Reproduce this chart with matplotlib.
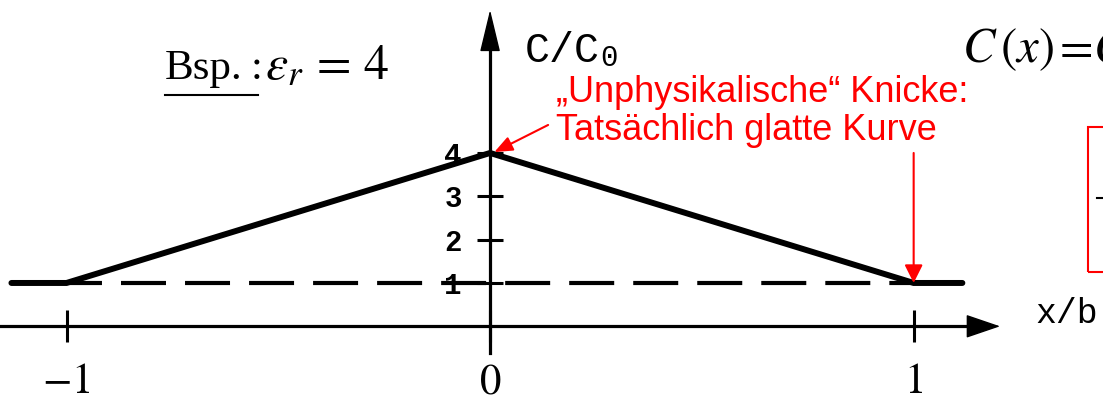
import matplotlib.pyplot as plt
from matplotlib.lines import Line2D
from matplotlib.patches import Rectangle

plt.rcParams['mathtext.fontset'] = 'stix'
plt.rcParams['lines.scale_dashes'] = False

# piecewise capacitance profile C/C0 over x/b
eps_r = 4
x_pos = [-1.13, -1.0, 0.0, 1.0, 1.115]
c_ratio = [1, 1, eps_r, 1, 1]
x_ticks = [-1, 0, 1]
x_ticklabels = [r'$-1$', r'$0$', r'$1$']
y_ticks = [1, 2, 3, 4]

W, H = 1103, 403


def px(x, y):
    # pixel position (from top left) -> figure fraction
    return x / W, 1 - y / H


fig = plt.figure(figsize=(11.03, 4.03), dpi=100)
ax = fig.add_axes([0, 0, 1, 1])
ax.set_xlim(-1.157, 1.447)
ax.set_ylim(-1.77, 7.53)

# axes through the origin
for side in ['top', 'right']:
    ax.spines[side].set_visible(False)
ax.spines['bottom'].set_position(('data', 0))
ax.spines['left'].set_position(('data', 0))
ax.spines['bottom'].set_bounds(-1.157, 1.14)
ax.spines['left'].set_bounds(-0.62, 6.9)
ax.spines['bottom'].set_linewidth(2.3)
ax.spines['left'].set_linewidth(2.3)

ax.set_xticks(x_ticks, x_ticklabels)
ax.set_yticks(y_ticks)
ax.tick_params(axis='x', direction='inout', length=23, width=2.2, pad=13,
               labelsize=31)
ax.tick_params(axis='y', direction='inout', length=18.7, width=2.2, pad=11,
               labelsize=21)
for lbl in ax.get_yticklabels():
    lbl.set_fontfamily('Liberation Mono')
    lbl.set_fontweight('bold')

arrow_kw = dict(mutation_scale=1, shrinkA=0, shrinkB=0, color='black', lw=1)
ax.annotate('', xy=(1.204, 0), xytext=(1.12, 0),
            arrowprops=dict(arrowstyle='-|>,head_length=22,head_width=7.5', **arrow_kw))
ax.annotate('', xy=(0, 7.30), xytext=(0, 6.7),
            arrowprops=dict(arrowstyle='-|>,head_length=27,head_width=6.5', **arrow_kw))

# reference level and the profile itself
ax.plot([x_pos[0], x_pos[-1]], [1, 1], color='black', lw=3.0,
        linestyle=(13, (32.4, 13.7)))
ax.plot(x_pos, c_ratio, color='black', lw=4.3, solid_joinstyle='miter',
        solid_capstyle='round', zorder=3)

# axis names
mono = 'Liberation Mono'
fig.text(*px(525, 62), 'C/C', family=mono, fontsize=30, va='baseline')
fig.text(*px(600, 66), '0', family=mono, fontsize=21, va='baseline')
fig.text(*px(1035, 323), 'x/b', family=mono, fontsize=25, va='baseline')

# example header and formula
serif = 'Liberation Serif'
fig.text(*px(165, 79), 'Bsp.', family=serif, fontsize=31, va='baseline')
fig.text(*px(251, 79), ':', family=serif, fontsize=31, va='baseline')
fig.add_artist(Line2D(*zip(px(165, 95), px(258, 95)), color='black', lw=1.5))
fig.text(*px(265, 79), r'$\varepsilon_r\,=\,%d$' % eps_r, fontsize=36,
         va='baseline')
fig.text(*px(962, 62), r'$C\,(x)$', fontsize=35, va='baseline')
fig.text(*px(1052, 62), r'$=\!C_0$', fontsize=35, va='baseline')

# remark on the kinks
red = '#ff0000'
fig.text(*px(556, 102), '\u201eUnphysikalische\u201c Knicke:',
         color=red, family='Liberation Sans', fontsize=26, va='baseline')
fig.text(*px(556, 140), 'Tatsächlich glatte Kurve',
         color=red, family='Liberation Sans', fontsize=26, va='baseline')
red_kw = dict(mutation_scale=1, shrinkA=0, shrinkB=0, color=red, lw=1.5)
ax.annotate('', xy=(0.01, eps_r + 0.02), xytext=(0.137, 4.646),
            arrowprops=dict(arrowstyle='-|>,head_length=11,head_width=4.5', **red_kw))
ax.annotate('', xy=(1, 1), xytext=(1, 4.0),
            arrowprops=dict(arrowstyle='-|>,head_length=11,head_width=5.5', **red_kw))

fig.add_artist(Rectangle(px(1088, 272), 0.05, 145 / H,
                         fill=False, edgecolor=red, lw=1.5))
fig.add_artist(Line2D(*zip(px(1097, 198), px(W, 198)), color='black', lw=1.5))

fig.savefig('out.png', dpi=100)
